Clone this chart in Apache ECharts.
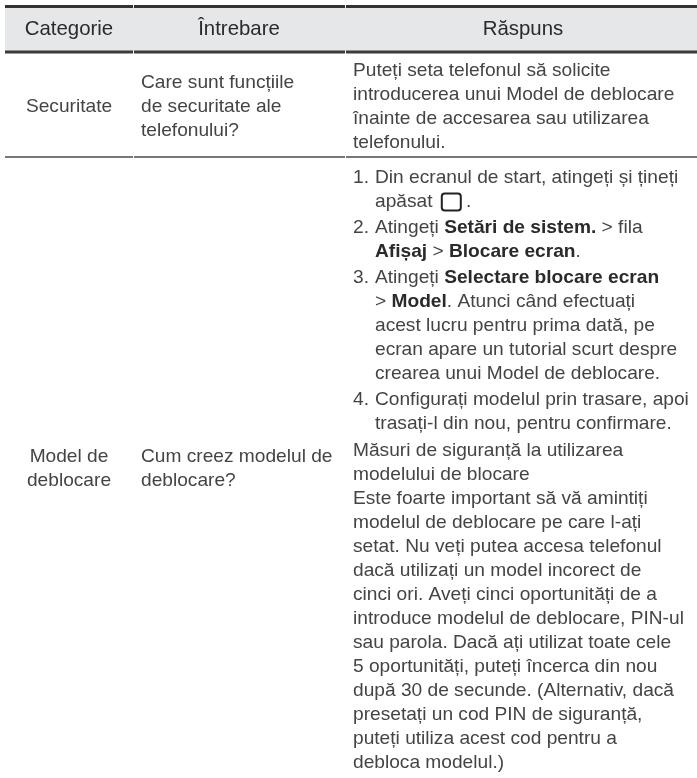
<!DOCTYPE html>
<html>
<head>
<meta charset="utf-8">
<style>
html, body { margin: 0; padding: 0; background: #fff; }
#main { width: 697px; height: 778px; }
</style>
<script src="https://cdn.jsdelivr.net/npm/echarts@6/dist/echarts.min.js"></script>
</head>
<body>
<div id="main"></div>
<script>
// table content
var headers = ['Categorie', 'Întrebare', 'Răspuns'];
var categories = [['Securitate'], ['Model de', 'deblocare']];
var questions = [
    ['Care sunt funcțiile', 'de securitate ale', 'telefonului?'],
    ['Cum creez modelul de', 'deblocare?']
];
var securityAnswer = [
    'Puteți seta telefonul să solicite',
    'introducerea unui Model de deblocare',
    'înainte de accesarea sau utilizarea',
    'telefonului.'
];
var patternSteps = [
    ['Din ecranul de start, atingeți și țineți', 'apăsat {gap|\u00a0}{key|\u00a0}\u00a0.'],
    ['Atingeți {b|Setări de sistem.} > fila', '{b|Afișaj} > {b|Blocare ecran}.'],
    ['Atingeți {b|Selectare blocare ecran}', '> {b|Model}. Atunci când efectuați', 'acest lucru pentru prima dată, pe', 'ecran apare un tutorial scurt despre', 'crearea unui Model de deblocare.'],
    ['Configurați modelul prin trasare, apoi', 'trasați-l din nou, pentru confirmare.']
];
var patternNote = [
    'Măsuri de siguranță la utilizarea',
    'modelului de blocare',
    'Este foarte important să vă amintiți',
    'modelul de deblocare pe care l-ați',
    'setat. Nu veți putea accesa telefonul',
    'dacă utilizați un model incorect de',
    'cinci ori. Aveți cinci oportunități de a',
    'introduce modelul de deblocare, PIN-ul',
    'sau parola. Dacă ați utilizat toate cele',
    '5 oportunități, puteți încerca din nou',
    'după 30 de secunde. (Alternativ, dacă',
    'presetați un cod PIN de siguranță,',
    'puteți utiliza acest cod pentru a',
    'debloca modelul.)'
];

// layout
var fontName = 'Liberation Sans';
var textColor = '#444';
var fontSize = 19.15;
var lineHeight = 24;
var colCenter = [69, 239, 523];
var colLeft = [0, 141, 353];
var stepIndent = 22;
var rules = [
    {y: 6.5, w: 3, c: '#333'},
    {y: 52, w: 3, c: '#3c3c3c'},
    {y: 157, w: 2, c: '#777'}
];
var gaps = [133, 345];
var rowCenter = [107, 469];

var graphic = [];

function addText(text, x, y, align, size, color) {
    graphic.push({
        type: 'text',
        x: x,
        y: y,
        style: {
            text: text,
            fill: color || textColor,
            fontFamily: fontName,
            fontSize: size || fontSize,
            align: align,
            verticalAlign: 'middle',
            rich: {
                b: {fontFamily: fontName, fontWeight: 'bold', fontSize: fontSize, fill: '#2a2a2a'},
                gap: {width: 4, fontSize: fontSize},
                key: {width: 19, height: 17, borderColor: '#222', borderWidth: 2, borderRadius: 3, fontSize: fontSize}
            }
        }
    });
}

// header band
graphic.push({type: 'rect', shape: {x: 5, y: 6, width: 692, height: 46}, style: {fill: '#e6e7e8'}});

headers.forEach(function (h, i) {
    addText(h, colCenter[i], 29, 'center', 20.4, '#2a2a2a');
});

// rules between the rows, broken at the column gaps
rules.forEach(function (r) {
    var starts = [5, gaps[0] + 1, gaps[1] + 1];
    var ends = [gaps[0], gaps[1], 697];
    starts.forEach(function (s, i) {
        graphic.push({
            type: 'line',
            shape: {x1: s, y1: r.y, x2: ends[i], y2: r.y},
            style: {stroke: r.c, lineWidth: r.w}
        });
    });
});

// first two columns, centred on each row
categories.forEach(function (lines, row) {
    lines.forEach(function (t, i) {
        addText(t, colCenter[0], rowCenter[row] + (i - (lines.length - 1) / 2) * lineHeight, 'center');
    });
});
questions.forEach(function (lines, row) {
    lines.forEach(function (t, i) {
        addText(t, colLeft[1], rowCenter[row] + (i - (lines.length - 1) / 2) * lineHeight, 'left');
    });
});

// answer column
var y = rowCenter[0] - 1.5 * lineHeight;
securityAnswer.forEach(function (t) {
    addText(t, colLeft[2], y, 'left');
    y += lineHeight;
});

y = 178;
patternSteps.forEach(function (step, n) {
    addText((n + 1) + '.', colLeft[2], y, 'left');
    step.forEach(function (t) {
        addText(t, colLeft[2] + stepIndent, y, 'left');
        y += lineHeight;
    });
    y += 2;
});
y += 1;
patternNote.forEach(function (t) {
    addText(t, colLeft[2], y, 'left');
    y += lineHeight;
});

var chart = echarts.init(document.getElementById('main'));
chart.setOption({
    backgroundColor: '#fff',
    animation: false,
    graphic: {elements: graphic}
});
</script>
</body>
</html>
